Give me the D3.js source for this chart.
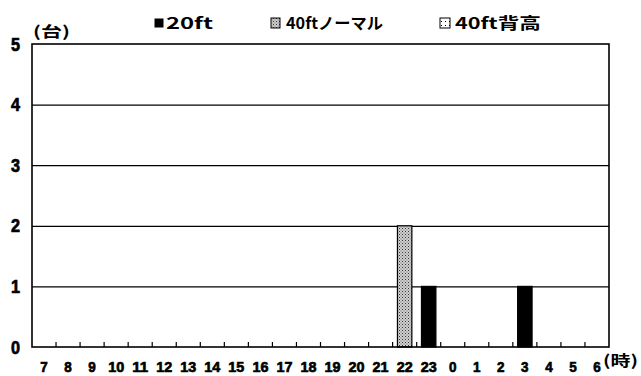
<!DOCTYPE html>
<html>
<head>
<meta charset="utf-8">
<script src="https://cdn.jsdelivr.net/npm/d3@7"></script>
<style>
html,body{margin:0;padding:0;background:#fff;}
svg{display:block;}
</style>
</head>
<body>
<svg id="chart" width="641" height="376"></svg>
<script>
const hours = ["7","8","9","10","11","12","13","14","15","16","17","18","19","20","21","22","23","0","1","2","3","4","5","6"];
const ft20      = [0,0,0,0,0,0,0,0,0,0,0,0,0,0,0,0,1,0,0,0,1,0,0,0];
const ft40Normal= [0,0,0,0,0,0,0,0,0,0,0,0,0,0,0,2,0,0,0,0,0,0,0,0];
const ft40High  = [0,0,0,0,0,0,0,0,0,0,0,0,0,0,0,0,0,0,0,0,0,0,0,0];
const seriesNames = ["20ft","40ftノーマル","40ft背高"];
const yTicks = [0,1,2,3,4,5];

const svg = d3.select("#chart");
const L = 32, R = 609, T = 44, B = 347;

const defs = svg.append("defs");
const p1 = defs.append("pattern").attr("id","dots").attr("patternUnits","userSpaceOnUse")
  .attr("width",3).attr("height",3);
p1.append("rect").attr("width",3).attr("height",3).attr("fill","#d0d0d0");
p1.append("rect").attr("x",0).attr("y",0).attr("width",1).attr("height",1).attr("fill","#333");
p1.append("rect").attr("x",1.5).attr("y",1.5).attr("width",1).attr("height",1).attr("fill","#666");
const p2 = defs.append("pattern").attr("id","sparse").attr("patternUnits","userSpaceOnUse")
  .attr("width",4).attr("height",4);
p2.append("rect").attr("width",4).attr("height",4).attr("fill","#fff");
p2.append("rect").attr("x",1).attr("y",1).attr("width",1).attr("height",1).attr("fill","#000");

const fills = ["#000","url(#dots)","url(#sparse)"];

const xb = d3.scaleBand().domain(hours).range([L,R]);
const y = d3.scaleLinear().domain([0,5]).range([B,T]);

// gridlines
const grid = svg.append("g").attr("transform",`translate(${L},0)`)
  .call(d3.axisLeft(y).tickValues([1,2,3,4]).tickSize(-(R-L)).tickFormat(""));
grid.select(".domain").remove();
grid.selectAll("line").attr("stroke","#000").attr("stroke-width",1.2);

// bars (stacked)
const table = hours.map((h,i)=>({h, a:ft20[i], b:ft40Normal[i], c:ft40High[i]}));
const stack = d3.stack().keys(["a","b","c"])(table);
const bw = xb.bandwidth()*0.6;
stack.forEach((layer,k)=>{
  svg.append("g").selectAll("rect").data(layer.filter(d=>d[1]-d[0]>0)).enter().append("rect")
    .attr("x",d=>xb(d.data.h)+xb.bandwidth()/2-bw/2)
    .attr("width",bw)
    .attr("y",d=>y(d[1]))
    .attr("height",d=>y(d[0])-y(d[1]))
    .attr("fill",fills[k])
    .attr("stroke","#000").attr("stroke-width",1.2);
});

// bottom ticks at band boundaries
const bounds = hours.slice(1).map(h=>xb(h));
svg.append("g").selectAll("line").data(bounds).enter().append("line")
  .attr("x1",d=>d).attr("x2",d=>d).attr("y1",B).attr("y2",B-5)
  .attr("stroke","#000").attr("stroke-width",1.2);

// frame
svg.append("rect").attr("x",L).attr("y",T).attr("width",R-L).attr("height",B-T)
  .attr("fill","none").attr("stroke","#000").attr("stroke-width",1.6);

// x labels
const sans = "'Liberation Sans',Arial,sans-serif";
svg.append("g").selectAll("text").data(hours).enter().append("text")
  .attr("x",d=>xb(d)+xb.bandwidth()/2).attr("y",372)
  .attr("text-anchor","middle").attr("font-family",sans).attr("font-weight","bold")
  .attr("font-size",15.5).attr("textLength",d=>d.length*7.5+(d.length-1)*1)
  .attr("lengthAdjust","spacingAndGlyphs")
  .attr("stroke","#000").attr("stroke-width",0.7).text(d=>d);

// y labels
svg.append("g").selectAll("text").data(yTicks).enter().append("text")
  .attr("x",11).attr("y",d=>y(d)+6.5)
  .attr("font-family",sans).attr("font-weight","bold")
  .attr("font-size",18).attr("textLength",9).attr("lengthAdjust","spacingAndGlyphs")
  .attr("stroke","#000").attr("stroke-width",0.7).text(d=>d);

const jp = "'Noto Sans CJK JP','Liberation Sans',sans-serif";
svg.append("text").attr("x",33).attr("y",37).attr("font-family",jp).attr("font-weight","bold")
  .attr("font-size",15).attr("textLength",37).attr("lengthAdjust","spacingAndGlyphs").text("(台)");
svg.append("text").attr("x",603).attr("y",366).attr("font-family",jp).attr("font-weight","bold")
  .attr("font-size",15).attr("textLength",35).attr("lengthAdjust","spacingAndGlyphs").text("(時)");

// legend
const leg = [
  {ix:155, iy:19, iw:8, ih:8, tx:166, tw:47},
  {ix:271, iy:18, iw:9, ih:10, tx:286, tw:97},
  {ix:440, iy:18, iw:10, ih:10, tx:455, tw:86}
];
leg.forEach((o,k)=>{
  svg.append("rect").attr("x",o.ix).attr("y",o.iy).attr("width",o.iw).attr("height",o.ih)
    .attr("fill",fills[k]).attr("stroke","#000").attr("stroke-width",1);
  svg.append("text").attr("x",o.tx).attr("y",29).attr("font-family",jp).attr("font-weight","bold")
    .attr("font-size",16).attr("textLength",o.tw).attr("lengthAdjust","spacingAndGlyphs")
    .text(seriesNames[k]);
});
</script>
</body>
</html>
